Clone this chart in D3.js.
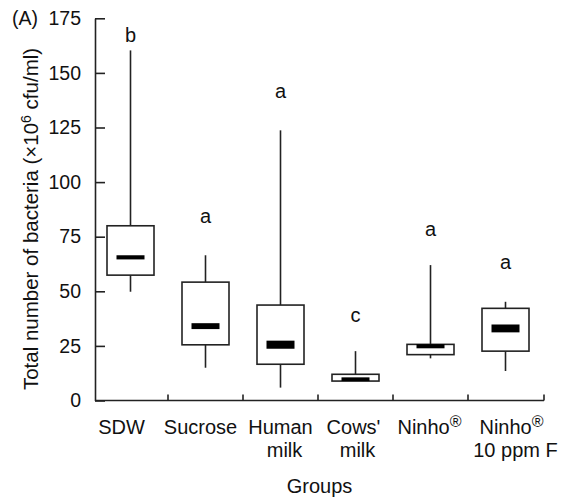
<!DOCTYPE html>
<html>
<head>
<meta charset="utf-8">
<script src="https://cdn.jsdelivr.net/npm/d3@7"></script>
<style>
  body { margin: 0; background: #fff; }
  text { font-family: "Liberation Sans", Arial, Helvetica, sans-serif; fill: #111; }
</style>
</head>
<body>
<div id="vis"></div>
<script>
// groups on the x axis (each entry = lines of the label)
const groups = ["SDW", "Sucrose", "Human milk", "Cows' milk", "Ninho®", "Ninho® 10 ppm F"];
const groupLines = [["SDW"], ["Sucrose"], ["Human", "milk"], ["Cows'", "milk"], ["Ninho®"], ["Ninho®", "10 ppm F"]];

// box plot values (x10^6 cfu/ml)
const whiskerLow  = [49.8, 15.0,   5.9,  8.9, 19.3, 13.5];
const q1          = [57.4, 25.5,  16.6,  8.9, 21.0, 22.6];
const q3          = [80.0, 54.2,  43.7, 12.0, 25.7, 42.2];
const whiskerHigh = [160.3, 66.5, 123.7, 22.6, 62.0, 45.2];
const medianLo    = [64.6, 32.7,  23.7,  8.9, 23.9, 31.2];
const medianHi    = [66.5, 35.4,  27.4, 10.6, 25.8, 34.8];

// significance letters and the value where their baseline sits
const letters  = ["b", "a", "a", "c", "a", "a"];
const letterAt = [164.1, 81.3, 138.7, 36.0, 75.2, 60.0];

const yTicks = [0, 25, 50, 75, 100, 125, 150, 175];

const width = 563, height = 502;
const axisX = 95, axisRight = 544;
const ink = "#222";

const svg = d3.select("#vis")
    .append("svg")
    .attr("width", width)
    .attr("height", height);

const x = d3.scaleBand()
    .domain(groups)
    .range([93, 543])
    .paddingInner(0);

const y = d3.scaleLinear()
    .domain([0, 175])
    .range([400.5, 18.3]);

// boundary ticks on the x axis
const xb = d3.scaleLinear().domain([0, groups.length]).range([93, 543]);

// y axis
const yAxis = svg.append("g")
    .attr("transform", "translate(" + axisX + ",0)")
    .call(d3.axisLeft(y).tickValues(yTicks).tickSizeInner(-10).tickSizeOuter(0).tickPadding(14));
yAxis.select(".domain").attr("stroke", ink).attr("stroke-width", 1.6);
yAxis.selectAll(".tick line").attr("stroke", ink).attr("stroke-width", 1.6);
yAxis.selectAll(".tick text")
    .style("font-size", "19.5px")
    .style("font-family", "'Liberation Sans', Arial, sans-serif")
    .attr("fill", "#111");

// x axis line and upward ticks at group boundaries
svg.append("line")
    .attr("x1", axisX).attr("x2", axisRight)
    .attr("y1", y(0)).attr("y2", y(0))
    .attr("stroke", ink).attr("stroke-width", 1.6);

svg.selectAll(".xtick")
    .data(d3.range(1, groups.length + 1))
    .enter()
    .append("line")
    .attr("class", "xtick")
    .attr("x1", (d) => d === groups.length ? axisRight : xb(d))
    .attr("x2", (d) => d === groups.length ? axisRight : xb(d))
    .attr("y1", y(0))
    .attr("y2", y(0) - 6)
    .attr("stroke", ink).attr("stroke-width", 1.6);

// boxes
const boxW = 47, medW = 28;
const box = svg.selectAll(".box")
    .data(groups)
    .enter()
    .append("g")
    .attr("class", "box")
    .attr("transform", (d) => "translate(" + (x(d) + x.bandwidth() / 2) + ",0)");

// whiskers
box.append("line")
    .attr("x1", 0).attr("x2", 0)
    .attr("y1", (d, i) => y(q3[i]))
    .attr("y2", (d, i) => y(whiskerHigh[i]))
    .attr("stroke", ink).attr("stroke-width", 1.6);
box.append("line")
    .attr("x1", 0).attr("x2", 0)
    .attr("y1", (d, i) => y(q1[i]))
    .attr("y2", (d, i) => y(whiskerLow[i]))
    .attr("stroke", ink).attr("stroke-width", 1.6);

box.append("rect")
    .attr("x", -boxW / 2)
    .attr("width", boxW)
    .attr("y", (d, i) => y(q3[i]))
    .attr("height", (d, i) => y(q1[i]) - y(q3[i]))
    .attr("fill", "#fff")
    .attr("stroke", ink).attr("stroke-width", 1.6);

// median bar
box.append("rect")
    .attr("x", -medW / 2)
    .attr("width", medW)
    .attr("y", (d, i) => y(medianHi[i]))
    .attr("height", (d, i) => y(medianLo[i]) - y(medianHi[i]))
    .attr("fill", "#000");

// letters
box.append("text")
    .attr("x", 0)
    .attr("y", (d, i) => y(letterAt[i]))
    .attr("text-anchor", "middle")
    .style("font-size", "20px")
    .text((d, i) => letters[i]);

// group labels, one text per line
const labelShift = [-9, -5, 0, -2, -1, 6];
groups.forEach((g, i) => {
    groupLines[i].forEach((line, k) => {
        const t = svg.append("text")
            .attr("class", "glabel")
            .attr("text-anchor", "middle")
            .attr("x", x(g) + x.bandwidth() / 2 + labelShift[i] + (k === 1 ? 4 : 0))
            .attr("y", 434 + k * 23)
            .style("font-size", "20px");
        if (line.endsWith("®")) {
            t.append("tspan").text(line.slice(0, -1));
            t.append("tspan").attr("dy", -7).style("font-size", "16px").text("®");
        } else {
            t.text(line);
        }
    });
});

// axis titles
svg.append("text")
    .attr("x", (axisX + axisRight) / 2)
    .attr("y", 493)
    .attr("text-anchor", "middle")
    .style("font-size", "20px")
    .text("Groups");

const yl = svg.append("text")
    .attr("transform", "translate(38,219) rotate(-90)")
    .attr("text-anchor", "middle")
    .style("font-size", "20.5px");
yl.append("tspan").text("Total number of bacteria (\u00d710");
yl.append("tspan").attr("dy", -7).style("font-size", "14px").text("6");
yl.append("tspan").attr("dy", 7).text(" cfu/ml)");

svg.append("text")
    .attr("x", 12)
    .attr("y", 25)
    .style("font-size", "19.5px")
    .text("(A)");
</script>
</body>
</html>
